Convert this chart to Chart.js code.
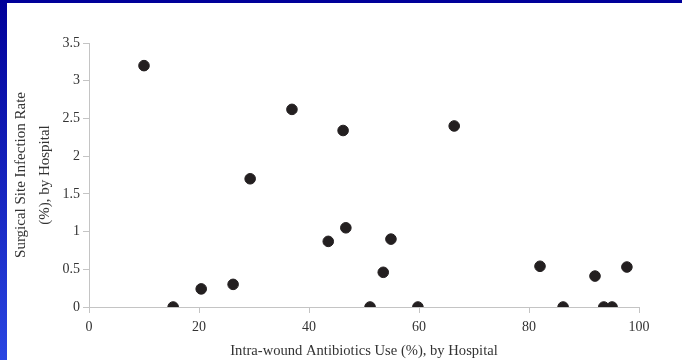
<!DOCTYPE html>
<html>
<head>
<meta charset="utf-8">
<script src="https://cdn.jsdelivr.net/npm/chart.js@4"></script>
<style>
  html, body { margin: 0; padding: 0; }
  body { width: 682px; height: 360px; position: relative; overflow: hidden; background: #fff; }
  /* marco azul de la diapositiva */
  #topBar { position: absolute; left: 0; top: 0; width: 682px; height: 3px; background: #000099; }
  #leftBar { position: absolute; left: 0; top: 0; width: 7px; height: 360px;
             background: linear-gradient(to bottom, #000099, #2a46e2); }
  #wrap { position: absolute; left: 0; top: 0; width: 682px; height: 360px; }
</style>
</head>
<body>
<div id="topBar"></div>
<div id="leftBar"></div>
<div id="wrap"><canvas id="chartCanvas" width="682" height="360"></canvas></div>
<script>
// Datos: uso de antibióticos (%) y tasa de infección (%) por hospital
const antibioticUse = [10.0, 15.3, 20.4, 26.2, 29.3, 36.9, 43.5, 46.2, 46.7, 51.1,
                       53.5, 54.9, 59.8, 66.4, 82.0, 86.2, 92.0, 93.6, 95.1, 97.8];
const infectionRate = [3.2, 0, 0.24, 0.3, 1.7, 2.62, 0.87, 2.34, 1.05, 0,
                       0.46, 0.9, 0, 2.4, 0.54, 0, 0.41, 0, 0, 0.53];

// Marcas de los ejes
const xTicks = [0, 20, 40, 60, 80, 100];
const yTicks = [0, 0.5, 1, 1.5, 2, 2.5, 3, 3.5];
const yTickLabels = ['0', '0.5', '1', '1.5', '2', '2.5', '3', '3.5'];

const puntos = antibioticUse.map((x, i) => ({ x: x, y: infectionRate[i] }));

const serif = 'Liberation Serif, Times New Roman, serif';
const axisColor = '#c4c4c4';

const ctx = document.getElementById('chartCanvas').getContext('2d');
const chart = new Chart(ctx, {
    type: 'scatter',
    data: {
        datasets: [{
            data: puntos,
            backgroundColor: '#231f20',
            borderColor: '#231f20',
            pointRadius: 5.3,
            pointHoverRadius: 5.3
        }]
    },
    options: {
        responsive: false,
        animation: false,
        layout: { padding: { left: 0, top: 43, right: 43, bottom: 0 } },
        plugins: { legend: { display: false }, tooltip: { enabled: false } },
        scales: {
            x: {
                type: 'linear',
                min: 0,
                max: 100,
                afterBuildTicks: axis => { axis.ticks = xTicks.map(v => ({ value: v })); },
                afterFit: axis => { axis.height = 53; },
                border: { color: axisColor, width: 1 },
                grid: { drawOnChartArea: false, drawTicks: true, tickLength: 6, color: axisColor },
                ticks: {
                    color: '#333',
                    font: { family: serif, size: 14 },
                    padding: 6,
                    maxRotation: 0
                },
                title: {
                    display: true,
                    text: 'Intra-wound Antibiotics Use (%), by Hospital',
                    color: '#333',
                    font: { family: serif, size: 14.6 },
                    padding: { top: 6, bottom: 0 }
                }
            },
            y: {
                type: 'linear',
                min: 0,
                max: 3.5,
                afterBuildTicks: axis => { axis.ticks = yTicks.map(v => ({ value: v })); },
                afterFit: axis => { axis.width = 89; },
                border: { color: axisColor, width: 1 },
                grid: { drawOnChartArea: false, drawTicks: true, tickLength: 6, color: axisColor },
                ticks: {
                    color: '#333',
                    font: { family: serif, size: 14 },
                    padding: 3,
                    callback: value => yTickLabels[yTicks.indexOf(value)]
                },
                title: {
                    display: true,
                    text: ['Surgical Site Infection Rate', '(%), by Hospital'],
                    color: '#333',
                    font: { family: serif, size: 15, lineHeight: 1.6 },
                    padding: { top: 9, bottom: 0 }
                }
            }
        }
    }
});
</script>
</body>
</html>
